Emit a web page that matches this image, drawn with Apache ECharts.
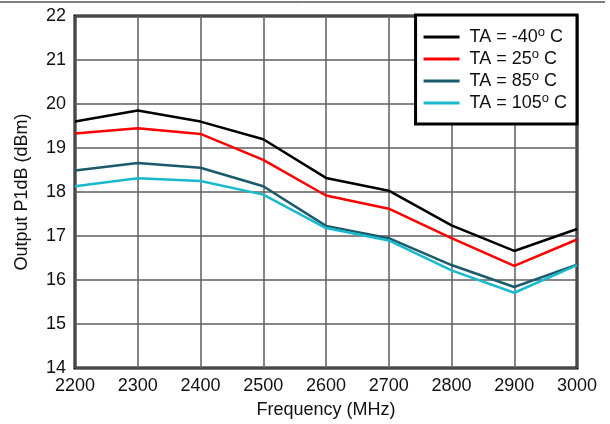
<!DOCTYPE html>
<html>
<head>
<meta charset="utf-8">
<script src="https://cdn.jsdelivr.net/npm/echarts@6/dist/echarts.min.js"></script>
<style>
  html, body { margin: 0; padding: 0; background: #fff; }
  #chart { width: 610px; height: 424px; }
</style>
</head>
<body>
<div id="chart"></div>
<script>
// frequencies (MHz)
const freq = [2200, 2300, 2400, 2500, 2600, 2700, 2800, 2900, 3000];
// Output P1dB (dBm) per temperature
const ta_m40 = [19.6, 19.85, 19.6, 19.2, 18.32, 18.03, 17.24, 16.66, 17.16];
const ta_25  = [19.33, 19.45, 19.32, 18.73, 17.92, 17.62, 16.95, 16.32, 16.92];
const ta_85  = [18.49, 18.66, 18.55, 18.13, 17.23, 16.95, 16.34, 15.84, 16.35];
const ta_105 = [18.13, 18.31, 18.25, 17.94, 17.18, 16.9, 16.22, 15.71, 16.34];
const names = ['TA = -40', 'TA = 25', 'TA = 85', 'TA = 105'];
const colors = ['#000000', '#ff0000', '#1b5a6b', '#19b9cc'];

const font = '"Liberation Sans", Arial, sans-serif';

function pairs(vals) {
  return freq.map((f, i) => [f, vals[i]]);
}

var chart = echarts.init(document.getElementById('chart'));

const option = {
  animation: false,
  textStyle: { fontFamily: font },
  grid: {
    left: 75, right: 33, top: 16, bottom: 53,
    show: true,
    borderColor: '#000',
    borderWidth: 3
  },
  legend: {
    orient: 'vertical',
    right: 33,
    top: 15,
    padding: [11, 10, 11, 8],
    itemGap: 1,
    itemWidth: 36,
    itemHeight: 3,
    icon: 'rect',
    borderColor: '#000',
    borderWidth: 3,
    backgroundColor: '#fff',
    data: names,
    formatter: function (n) { return n + '{s|o} C'; },
    textStyle: {
      fontFamily: font,
      fontSize: 18,
      color: '#111',
      lineHeight: 20,
      padding: [0, 0, 0, 5],
      rich: {
        s: { fontSize: 13, fontFamily: font, color: '#111', padding: [0, 0, 9, 0] }
      }
    }
  },
  xAxis: {
    type: 'value',
    min: 2200,
    max: 3000,
    interval: 100,
    name: 'Frequency (MHz)',
    nameLocation: 'middle',
    nameGap: 33,
    nameTextStyle: { fontSize: 18, color: '#111', fontFamily: font },
    axisLine: { show: false },
    axisTick: { show: false },
    axisLabel: {
      fontSize: 18, color: '#111', margin: 9, fontFamily: font,
      formatter: function (v) { return String(v); }
    },
    splitLine: { lineStyle: { color: '#5e5e5e', width: 1.5 } }
  },
  yAxis: {
    type: 'value',
    min: 14,
    max: 22,
    interval: 1,
    name: 'Output P1dB (dBm)',
    nameLocation: 'middle',
    nameGap: 44,
    nameTextStyle: { fontSize: 18, color: '#111', fontFamily: font },
    axisLine: { show: false },
    axisTick: { show: false },
    axisLabel: { fontSize: 18, color: '#111', margin: 9, fontFamily: font },
    splitLine: { lineStyle: { color: '#5e5e5e', width: 1.5 } }
  },
  series: [ta_m40, ta_25, ta_85, ta_105].map((vals, i) => ({
    name: names[i],
    type: 'line',
    data: pairs(vals),
    symbol: 'none',
    color: colors[i],
    lineStyle: { color: colors[i], width: 2.5 }
  })),
  graphic: [{
    type: 'line',
    shape: { x1: 0, y1: 2, x2: 605, y2: 2 },
    style: { stroke: '#000', lineWidth: 1 }
  }]
};

chart.setOption(option);
</script>
</body>
</html>
